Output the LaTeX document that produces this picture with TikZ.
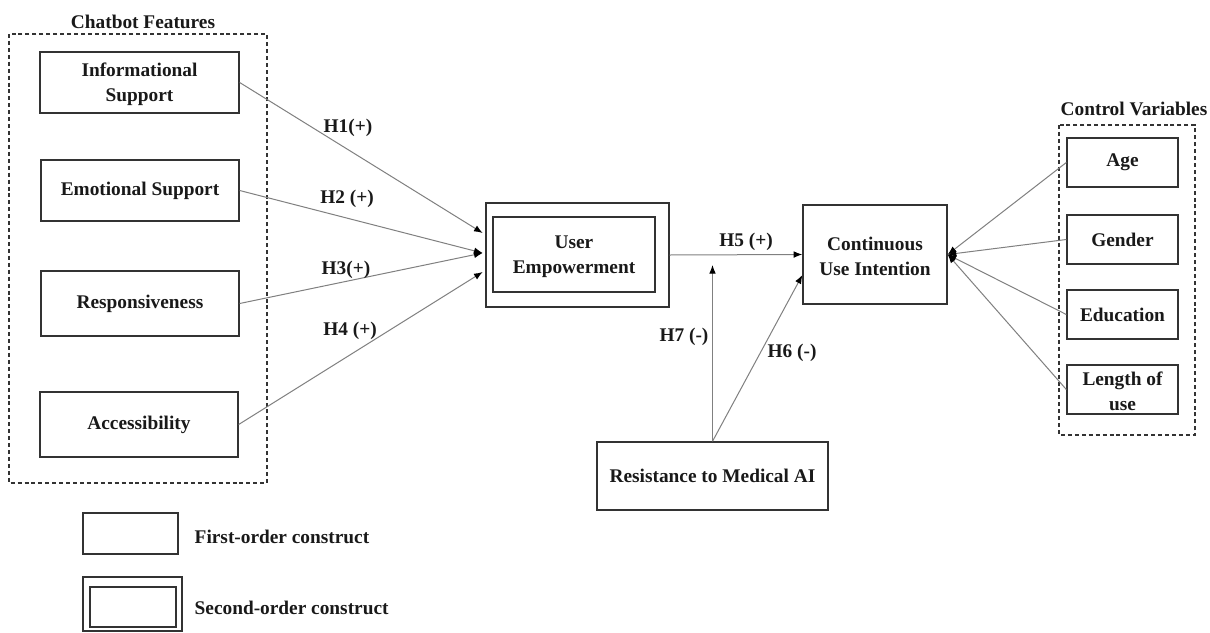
\documentclass[tikz,border=0pt]{standalone}
\usepackage{fontspec}
\setmainfont{Liberation Serif}
\usetikzlibrary{arrows.meta,calc}
\begin{document}
\begin{tikzpicture}[x=0.75pt,y=-0.75pt,
  every node/.style={font=\fontsize{14.5pt}{18.75pt}\selectfont\bfseries, text=black!90},
  box/.style={draw=black!80, line width=1pt, rectangle, inner sep=0pt, align=center},
  grp/.style={draw=black!80, line width=0.9pt, dash pattern=on 3pt off 2.2pt},
  conn/.style={draw=black!50, line width=0.75pt, -{Latex[length=6.5pt,width=5pt,color=black]}},
  lbl/.style={inner sep=1pt}
]
\useasboundingbox[fill=white] (0,0) rectangle (1210,632);

% group frames
\draw[grp] (9,34) rectangle (267,483);
\node (cftitle) at (143,22) {Chatbot Features};
\draw[grp] (1059,125) rectangle (1195,435);
\node (cvtitle) at (1134,109) {Control Variables};

% first-order constructs
\node[box, minimum width=149.25pt, minimum height=45.75pt] (info) at (139.5,82.5) {\strut Informational\\Support};
\node[box, minimum width=148.5pt, minimum height=45.75pt] (emo) at (140,190.5) {Emotional Support};
\node[box, minimum width=148.5pt, minimum height=48.75pt] (resp) at (140,303.5) {Responsiveness};
\node[box, minimum width=148.5pt, minimum height=48.75pt] (acc) at (139,424.5) {Accessibility};

% second-order construct
\node[box, minimum width=137.25pt, minimum height=78pt] (ueo) at (577.5,255) {};
\node[box, minimum width=121.5pt, minimum height=56.25pt] (uei) at (574,254.5) {\strut User\\Empowerment};

\node[box, minimum width=108pt, minimum height=74.25pt] (cui) at (875,254.5) {\strut Continuous\\Use Intention};
\node[box, minimum width=173.25pt, minimum height=51pt] (res) at (712.5,476) {Resistance to Medical AI};

% controls
\node[box, minimum width=83.25pt, minimum height=36.75pt] (age) at (1122.5,162.5) {Age};
\node[box, minimum width=83.25pt, minimum height=36.75pt] (gen) at (1122.5,239.5) {Gender};
\node[box, minimum width=83.25pt, minimum height=36.75pt] (edu) at (1122.5,314.5) {Education};
\node[box, minimum width=83.25pt, minimum height=36.75pt] (len) at (1122.5,389.5) {\strut Length of\\use};

% connectors into User Empowerment
\draw[conn] (info.east) -- ([xshift=-2pt,yshift=16.5pt]ueo.west);
\draw[conn] (emo.east) -- ([xshift=-2pt,yshift=1.5pt]ueo.west);
\draw[conn] (resp.east) -- ([xshift=-2pt,yshift=1.5pt]ueo.west);
\draw[conn] (acc.east) -- ([xshift=-2pt,yshift=-12.75pt]ueo.west);
\node[lbl] (h1) at (348,128) {H1(+)};
\node[lbl] (h2) at (347,199) {H2 (+)};
\node[lbl] (h3) at (346,270) {H3(+)};
\node[lbl] (h4) at (350,331) {H4 (+)};

% H5, H6, H7
\draw[conn] (ueo.east) -- (cui.west);
\node[lbl] (h5) at (746,242) {H5 (+)};
\coordinate (h7end) at (712.5,265);
\draw[conn] (res.north) -- (h7end);
\node[lbl] (h7) at (684,337) {H7 (-)};
\draw[conn] (res.north) -- ([yshift=-15.4pt]cui.west);
\node[lbl] (h6) at (792,353) {H6 (-)};

% control variable connectors
\draw[conn] (age.west) -- (cui.east);
\draw[conn] (gen.west) -- (cui.east);
\draw[conn] (edu.west) -- (cui.east);
\draw[conn] (len.west) -- (cui.east);

% legend
\node[box, minimum width=71.25pt, minimum height=30.75pt] (lg1) at (130.5,533.5) {};
\node[anchor=west] (lg1t) at (190,537) {First-order construct};
\node[box, minimum width=74.25pt, minimum height=40.5pt] (lg2o) at (132.5,604) {};
\node[box, minimum width=64.5pt, minimum height=30pt] (lg2i) at (133,607) {};
\node[anchor=west] (lg2t) at (190,608) {Second-order construct};
\end{tikzpicture}
\end{document}
